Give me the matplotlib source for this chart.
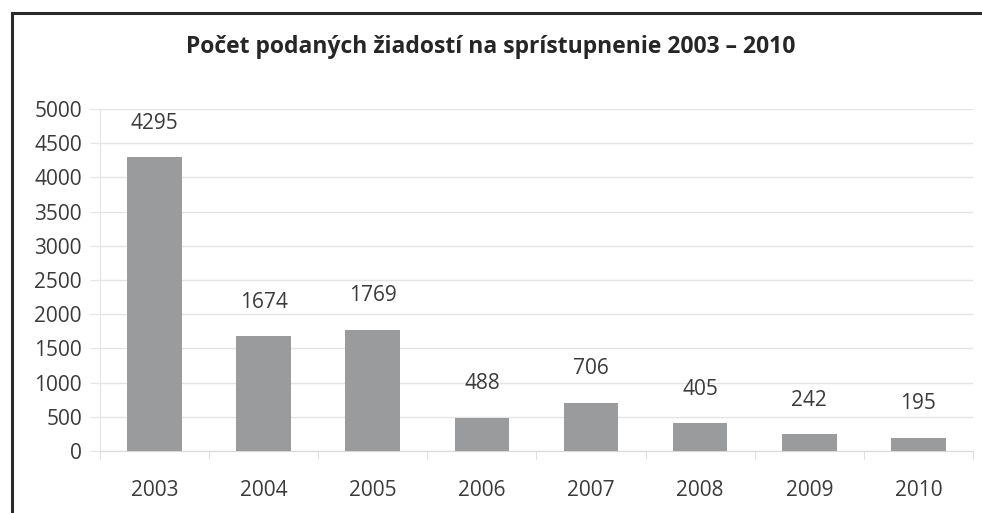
import matplotlib
matplotlib.use("Agg")
import matplotlib.pyplot as plt
from matplotlib.lines import Line2D
import numpy as np

years = ["2003", "2004", "2005", "2006", "2007", "2008", "2009", "2010"]
values = [4295, 1674, 1769, 488, 706, 405, 242, 195]
yticks = [0, 500, 1000, 1500, 2000, 2500, 3000, 3500, 4000, 4500, 5000]
title = "Počet podaných žiadostí na sprístupnenie 2003 – 2010"

plt.rcParams['font.family'] = ['Open Sans', 'DejaVu Sans']
txt = "#3a3a3a"
grid = "#e4e4e4"

fig = plt.figure(figsize=(9.82, 5.13), dpi=100)
ax = fig.add_axes([0.1018, 0.1209, 0.889, 0.6666])

x = np.arange(len(years))
ax.bar(x, values, width=0.5, color="#9a9b9d", zorder=3)
for xi, v in zip(x, values):
    ax.annotate(str(v), (xi, v), xytext=(0, 17), textcoords="offset points",
                ha="center", va="bottom", fontsize=15, color=txt)

ax.set_xlim(-0.5, len(years) - 0.5)
ax.set_ylim(0, 5000)
ax.set_yticks(yticks)
ax.set_yticklabels([str(t) for t in yticks])
ax.set_xticks(x)
ax.set_xticklabels(years)
ax.set_xticks(np.arange(len(years) + 1) - 0.5, minor=True)

ax.grid(axis="y", color=grid, linewidth=1, zorder=0)
for s in ["top", "right"]:
    ax.spines[s].set_visible(False)
ax.spines["left"].set_color(grid)
ax.spines["bottom"].set_color("#d8d8d8")
ax.tick_params(axis="y", length=7, color=grid, labelsize=15, labelcolor=txt, pad=6)
ax.tick_params(axis="x", which="major", length=0, labelsize=15, labelcolor=txt, pad=21)
ax.tick_params(axis="x", which="minor", length=6, color="#d8d8d8")

fig.text(0.5, 0.908, title, ha="center", va="center", fontsize=16.5,
         fontweight="bold", color="#262626")

fig.add_artist(Line2D([0.0125, 0.0125], [0.0, 0.975], transform=fig.transFigure,
                      color="#2a2a2a", linewidth=2.2))
fig.add_artist(Line2D([0.0125, 1.0], [0.975, 0.975], transform=fig.transFigure,
                      color="#2a2a2a", linewidth=2.2))

fig.savefig("out.png", dpi=100)
